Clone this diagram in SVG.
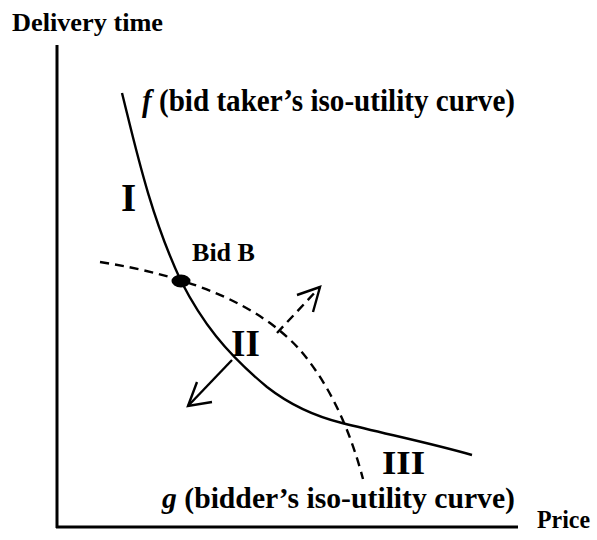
<svg xmlns="http://www.w3.org/2000/svg" width="597" height="540" viewBox="0 0 597 540">
<style>
text{font-family:"Liberation Serif","Times New Roman",serif;font-weight:bold;fill:#000}
.ln{fill:none;stroke:#000;stroke-width:2.4;stroke-linecap:butt;stroke-linejoin:miter}
.ax{fill:none;stroke:#000;stroke-width:3}
.ds{stroke-dasharray:9 6}
</style>
<rect width="597" height="540" fill="#fff"/>
<g id="axes">
<line class="ax" x1="57" y1="45" x2="57" y2="528"/>
<line class="ax" x1="56" y1="527" x2="518" y2="527"/>
<text x="12" y="31" font-size="26" textLength="151" lengthAdjust="spacingAndGlyphs">Delivery time</text>
<text x="537" y="528" font-size="25" textLength="53" lengthAdjust="spacingAndGlyphs">Price</text>
</g>
<g id="connectors">
<path id="curve-f" class="ln" d="M122,93 C135,145 150,215 181,281 C202,322 225,352 267,387 C290,405 314,416 342,423 C390,435 430,443 472,455"/>
<path id="curve-g" class="ln ds" d="M100,262 C190,276 260,305 300,350 C330,385 350,430 363,479"/>
<g id="arrow-down">
<line class="ln" x1="232" y1="360" x2="188" y2="406"/>
<polyline class="ln" points="197,382 188,406 212,402"/>
</g>
<g id="arrow-up">
<line class="ln ds" x1="277" y1="333" x2="320" y2="287"/>
<polyline class="ln" points="297,295 320,287 313,312"/>
</g>
</g>
<g id="bid-b">
<ellipse cx="181" cy="281" rx="9.5" ry="6.5" fill="#000"/>
<text x="192" y="261" font-size="26" textLength="63" lengthAdjust="spacingAndGlyphs">Bid B</text>
</g>
<g id="label-f">
<text x="142" y="111" font-size="32" textLength="373" lengthAdjust="spacingAndGlyphs"><tspan font-style="italic">f</tspan> (bid taker’s iso-utility curve)</text>
</g>
<g id="label-g">
<text x="162" y="508" font-size="30" textLength="353" lengthAdjust="spacingAndGlyphs"><tspan font-style="italic">g</tspan> (bidder’s iso-utility curve)</text>
</g>
<g id="region-I"><text x="121" y="211" font-size="39">I</text></g>
<g id="region-II"><text x="231" y="356" font-size="37">II</text></g>
<g id="region-III"><text x="382" y="474" font-size="34" textLength="43" lengthAdjust="spacingAndGlyphs">III</text></g>
</svg>
